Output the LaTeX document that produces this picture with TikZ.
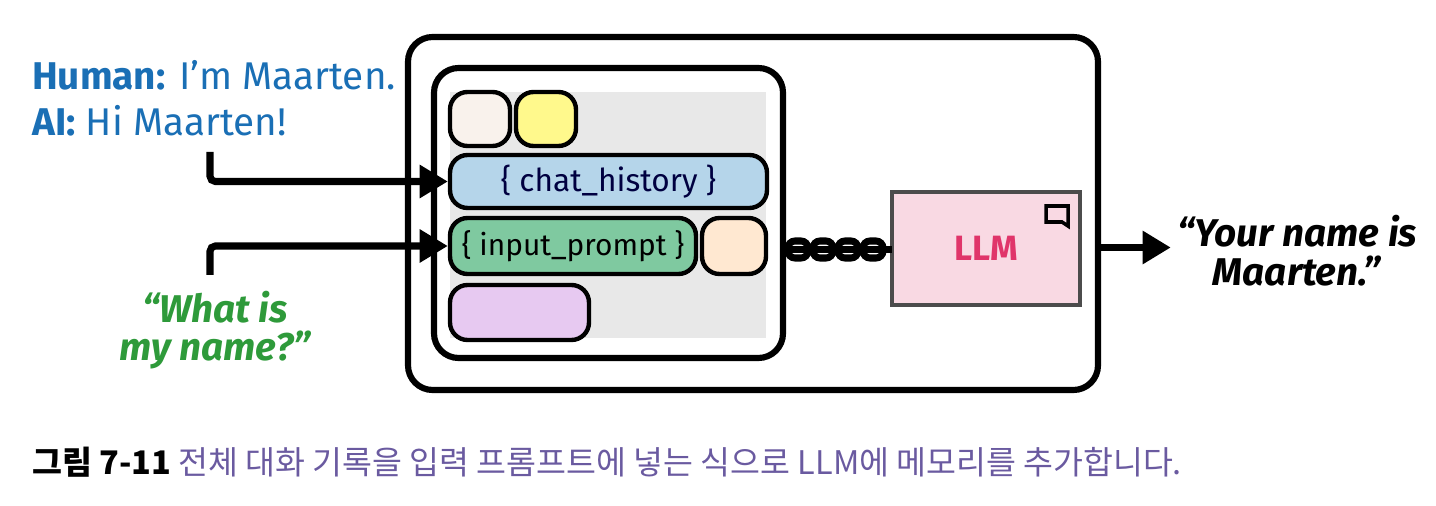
\documentclass[tikz,border=0pt]{standalone}
\usepackage{fontspec}
\setmainfont{Fira Sans}
\newfontfamily\cjk{Noto Sans CJK KR}
\usetikzlibrary{arrows.meta}
\definecolor{histblue}{HTML}{B5D5EA}
\definecolor{promptgreen}{HTML}{7FC9A0}
\definecolor{humanblue}{HTML}{1A6FB5}
\definecolor{askgreen}{HTML}{2E9A3A}
\definecolor{llmpink}{HTML}{F9D9E3}
\definecolor{llmred}{HTML}{E0356A}
\definecolor{capviolet}{HTML}{6A5AA0}
\definecolor{slotviolet}{HTML}{E7C9F1}
\tikzset{
  slot/.style={draw, line width=2.5pt, rounded corners=10pt, inner sep=0pt},
  frame/.style={draw, line width=3.5pt, rounded corners=14pt},
  feed/.style={line width=4pt, -{Triangle[length=16pt,width=18pt]}},
}
\begin{document}
\begin{tikzpicture}[x=0.02cm,y=-0.02cm]
\useasboundingbox (0,0) rectangle (1436,506);

% frames
\draw[frame] (408,37) rectangle (1098,390);
\draw[frame] (434,68) rectangle (783,358);
\fill[gray!18] (450,92) rectangle (766,338);

% template slots
\draw[slot, fill=brown!10] (450,92) rectangle (510,146);
\draw[slot, fill=yellow!45] (516,92) rectangle (576,146);
\node[slot, fill=histblue, minimum width=6.34cm, minimum height=1.06cm, font=\fontsize{18}{18}\selectfont\color{black!75!blue}] (hist) at (608.5,181.5) {\{ chat\_history \}};
\node[slot, fill=promptgreen, minimum width=4.92cm, minimum height=1.12cm, font=\fontsize{17}{17}\selectfont] (prompt) at (573,246) {\{ input\_prompt \}};
\draw[slot, fill=orange!18] (702,218) rectangle (766,274);
\draw[slot, fill=slotviolet] (450,285) rectangle (589,340);

% llm
\node[draw=black!70, line width=2pt, fill=llmpink, minimum width=3.76cm, minimum height=2.26cm, font=\fontsize{20}{20}\selectfont\bfseries\color{llmred}] (llm) at (986,248.5) {LLM};
\draw[line width=2pt] (1046,206) -- (1068,206) -- (1068,226) -- (1062,222) -- (1046,222) -- cycle;

% chain
\foreach \i in {0,...,3}
  \draw[line width=4pt, rounded corners=4pt] (788+\i*25,241) rectangle (808+\i*25,258);
\draw[line width=4pt] (783,249.5) -- (892,249.5);

% inputs
\node[anchor=west, text=humanblue, font=\fontsize{22}{22}\selectfont, align=left] (human) at (26,98) {\textbf{Human:} I'm Maarten.\\[4pt]\textbf{AI:} Hi Maarten!};
\coordinate (h0) at (210,152);
\coordinate (q0) at (210,275);
\draw[feed, rounded corners=3pt] (h0) |- (hist.west);
\draw[feed, rounded corners=3pt] (q0) |- (prompt.west);
\node[text=askgreen, font=\fontsize{22}{22}\selectfont\itshape\bfseries, align=center] (ask) at (215,330) {``What is\\my name?''};

% output
\node[font=\fontsize{22}{22}\selectfont\itshape\bfseries, align=center] (answer) at (1297,251) {``Your name is\\Maarten.''};
\draw[feed] (1098,247.5) -- (answer.west |- 0,247.5);

% caption
\node[anchor=west, font=\cjk\fontsize{18.5}{18.5}\selectfont] (cap) at (26,462) {\textbf{그림 7-11} \textcolor{capviolet}{전체 대화 기록을 입력 프롬프트에 넣는 식으로 LLM에 메모리를 추가합니다.}};
\end{tikzpicture}
\end{document}
